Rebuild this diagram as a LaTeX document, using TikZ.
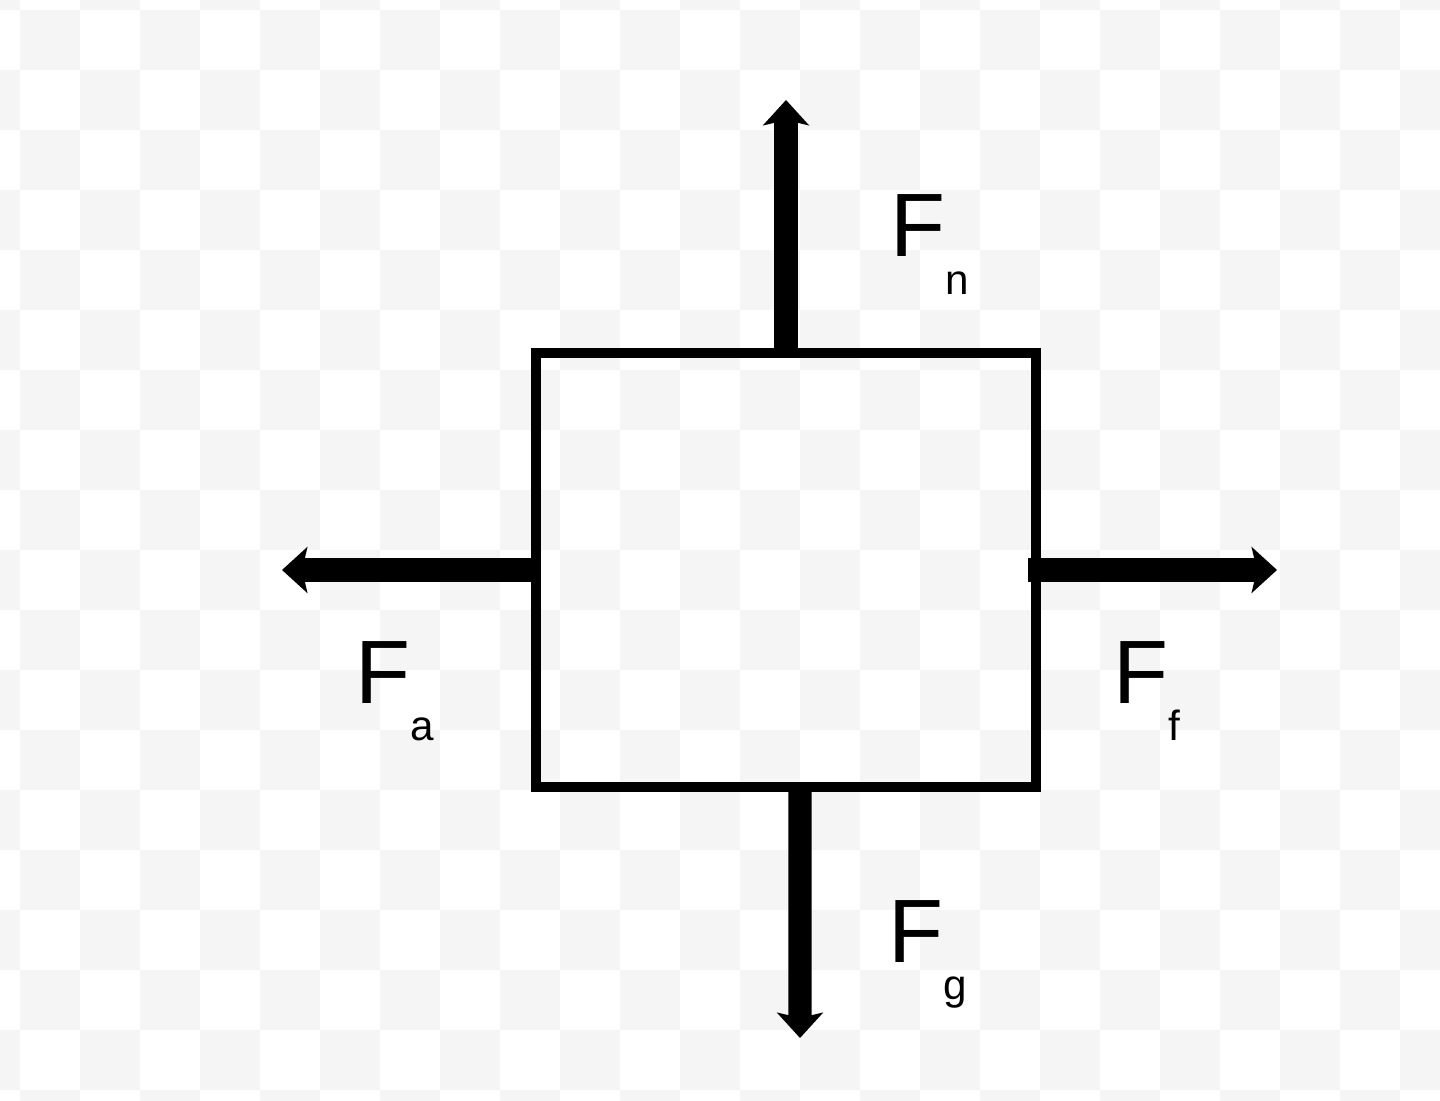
\documentclass[tikz,border=0pt]{standalone}
\usepackage{fontspec}
\setmainfont{Liberation Sans}
\usetikzlibrary{arrows.meta}

\newcommand{\lowsub}[1]{\raisebox{-10.8pt}{\fontsize{12}{14}\selectfont #1}}

\begin{document}
\begin{tikzpicture}[x=0.01cm, y=-0.01cm,
    checker/.style={fill=black!4},
    block/.style={draw, line width=2.85pt, minimum width=5cm, minimum height=4.34cm, inner sep=0pt},
    force/.style={line width=6.6pt, -{Stealth[length=7.2pt, width=13pt, inset=1.5pt]}},
    force label/.style={inner sep=0pt, anchor=base west, font=\fontsize{25.6}{30}\selectfont}]
                \useasboundingbox (0,0) rectangle (1440,1101);
                \clip (0,0) rectangle (1440,1101);
                \fill[white] (0,0) rectangle (1440,1101);
                % faint checkered background
                \foreach \i in {0,2,...,22} \foreach \j in {0,2,...,18}
                    \fill[checker] (20+60*\i,10+60*\j) rectangle +(60,60);
                \foreach \i in {-1,1,...,23} \foreach \j in {-1,1,...,17}
                    \fill[checker] (20+60*\i,10+60*\j) rectangle +(60,60);

                \node[block] (box) at (786,570) {};

                \coordinate (up) at (786,100);
                \coordinate (down) at (800,1038);
                \coordinate (left) at (282,570);
                \coordinate (right) at (1277,570);

                \draw[force] (box.north) -- (up);
                \draw[force] ([xshift=0.14cm]box.south) -- (down);
                \draw[force] (box.west) -- (left);
                \draw[force] ([xshift=-0.13cm]box.east) -- (right);

                \node[force label] (Fn) at (890,257) {F\lowsub{n}};
                \node[force label] (Fa) at (355,703) {F\lowsub{a}};
                \node[force label] (Ff) at (1113,703) {F\lowsub{f}};
                \node[force label] (Fg) at (888,962) {F\lowsub{g}};
\end{tikzpicture}
\end{document}
